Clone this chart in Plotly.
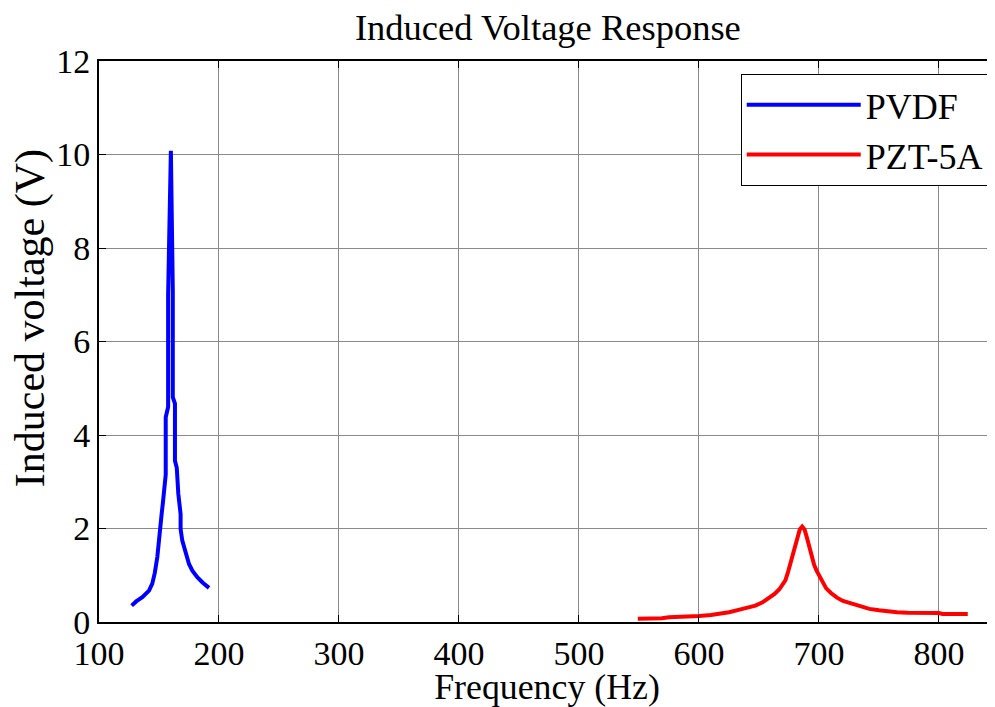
import plotly.graph_objects as go

# PVDF trace (Hz, V)
pvdf_freq = [127.2, 131.0, 136.1, 141.7, 144.4, 146.5, 148.6, 150.6, 151.4, 152.2, 153.3, 154.2,
             155.6, 155.6, 157.6, 157.6, 159.9, 161.5, 161.5, 163.3, 163.3, 164.8, 166.1, 168.0,
             168.0, 169.4, 172.2, 175.0, 177.8, 181.9, 186.5, 191.7]
pvdf_volt = [0.35, 0.44, 0.53, 0.67, 0.82, 1.05, 1.39, 1.81, 2.03, 2.31, 2.56, 2.88,
             3.15, 4.38, 4.60, 7.00, 10.08, 7.10, 4.81, 4.67, 3.45, 3.30, 2.74, 2.31,
             1.99, 1.74, 1.46, 1.24, 1.10, 0.96, 0.84, 0.73]

# PZT-5A trace (Hz, V)
pzt_freq = [549, 560, 569, 575, 590, 600, 610, 617, 625, 633, 640, 647, 653, 658, 663, 667,
            670, 672, 674, 676, 678, 680, 682, 684, 686, 688, 690, 692, 694, 696, 698, 700,
            703, 706, 710, 715, 720, 726, 733, 742, 750, 756, 765, 774, 785, 800, 803, 815, 824]
pzt_volt = [0.07, 0.07, 0.08, 0.10, 0.11, 0.13, 0.15, 0.17, 0.21, 0.26, 0.30, 0.35, 0.42, 0.50,
            0.60, 0.70, 0.80, 0.89, 1.05, 1.24, 1.45, 1.67, 1.85, 1.98, 2.04, 1.98, 1.80, 1.58,
            1.38, 1.22, 1.10, 1.00, 0.85, 0.72, 0.62, 0.52, 0.45, 0.40, 0.35, 0.28, 0.25, 0.23,
            0.21, 0.20, 0.20, 0.19, 0.17, 0.17, 0.17]

x_ticks = [100, 200, 300, 400, 500, 600, 700, 800]
y_ticks = [0, 2, 4, 6, 8, 10, 12]

FONT = "Times New Roman, Liberation Serif, serif"

fig = go.Figure()
fig.add_trace(go.Scatter(x=pvdf_freq, y=pvdf_volt, mode="lines", name="PVDF",
                         line=dict(color="#0000ff", width=4)))
fig.add_trace(go.Scatter(x=pzt_freq, y=pzt_volt, mode="lines", name="PZT-5A",
                         line=dict(color="#ff0000", width=4)))

axis_common = dict(
    showline=True, linecolor="black", linewidth=2, mirror="ticks",
    ticks="inside", ticklen=7, tickwidth=1, tickcolor="black",
    showgrid=True, gridcolor="#8a8a8a", gridwidth=1, zeroline=False,
    tickfont=dict(family=FONT, size=34, color="black"),
)

fig.update_layout(
    width=987, height=699,
    margin=dict(l=91, r=0, t=53, b=85, autoexpand=False),
    paper_bgcolor="white", plot_bgcolor="white",
    title=dict(text="Induced Voltage Response", x=0.547, xanchor="center",
               y=0.972, yref="container", yanchor="middle",
               font=dict(family=FONT, size=36.5, color="black")),
    xaxis=dict(range=[100, 846.7], tickvals=x_ticks,
               title=dict(text="Frequency (Hz)", standoff=6,
                          font=dict(family=FONT, size=35.8, color="black")),
               **axis_common),
    yaxis=dict(range=[0, 12], tickvals=y_ticks, **axis_common),
    legend=dict(x=0.993, y=0.977, xanchor="right", yanchor="top",
                bordercolor="black", borderwidth=1, bgcolor="white",
                font=dict(family=FONT, size=36, color="black"),
                itemwidth=114, tracegroupgap=0),
    showlegend=True,
)

# y-axis title, placed slightly above the axis centre as in the original
fig.add_annotation(text="Induced voltage (V)", textangle=-90, showarrow=False,
                   xref="paper", yref="paper", x=-0.077, y=0.5415,
                   xanchor="center", yanchor="middle",
                   font=dict(family=FONT, size=42, color="black"))

fig.write_html("out.html")
